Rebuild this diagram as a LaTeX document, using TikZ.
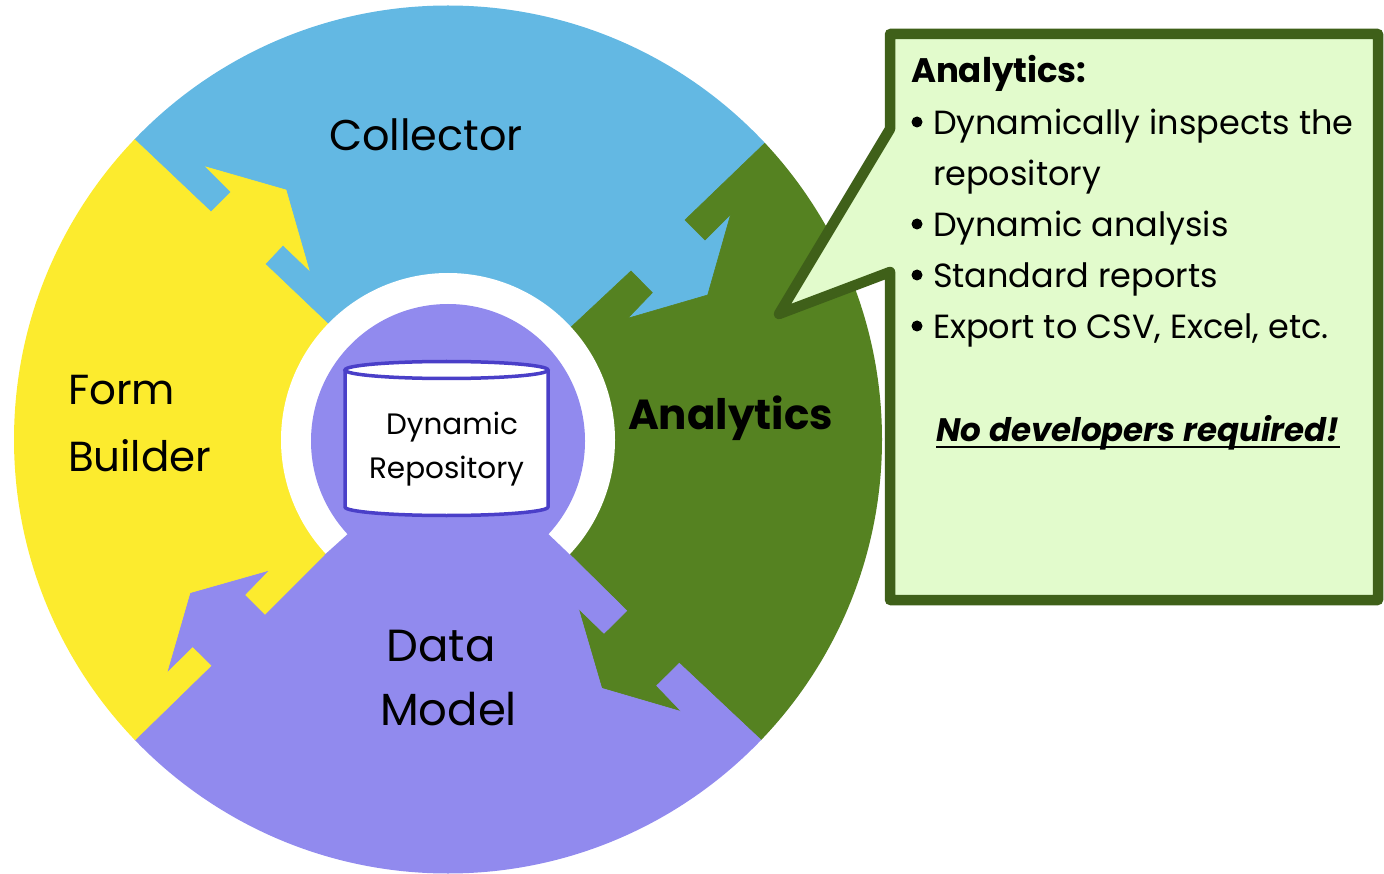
\documentclass[tikz,border=0pt]{standalone}
\usepackage{fontspec}
\setmainfont{Poppins}
\definecolor{cblue}{RGB}{99,184,227}
\definecolor{cyellow}{RGB}{252,235,46}
\definecolor{cgreen}{RGB}{85,130,33}
\definecolor{cpurple}{RGB}{145,138,238}
\definecolor{cdark}{RGB}{63,96,25}
\definecolor{clight}{RGB}{226,251,204}
\definecolor{ccyl}{RGB}{74,63,200}
\tikzset{
  seg/.style={fill=#1, draw=#1, line width=0.6pt, line join=miter},
  lbl/.style={inner sep=0pt, outer sep=0pt, text=black},
  bigtxt/.style={lbl, font=\fontsize{#1}{#1}\selectfont},
  boxtxt/.style={lbl, anchor=base west, font=\fontsize{33.5}{40}\selectfont},
  bul/.style={circle, fill=black, inner sep=0pt, minimum size=11pt},
}
\begin{document}
\begin{tikzpicture}[x=1pt,y=-1pt]
\useasboundingbox (0,0) rectangle (1384,874);
% ---- four coloured segments clipped by the outer circle
\begin{scope}
\clip (448,439.5) circle[radius=434];
% Collector (blue)
\path[seg=cblue] (448,440) -- (327,323) -- (265,264) -- (283,245) -- (309,270) -- (286,190)
  -- (206,167) -- (231,192) -- (211,212) -- (59,68) -- (-300,-300) -- (1200,-300) -- (845,66)
  -- (685,220) -- (705,240) -- (730.7,214.3) -- (707.7,295) -- (627.7,318.3) -- (652.3,292.7)
  -- (631,271) -- (573.3,325) -- cycle;
% Analytics (green)
\path[seg=cgreen] (448,440) -- (573.3,325) -- (631,271) -- (652.3,292.7) -- (627.7,318.3)
  -- (707.7,295) -- (730.7,214.3) -- (705,240) -- (685,220) -- (845,66) -- (1200,-300)
  -- (1200,1200) -- (844,818) -- (679.3,663.3) -- (656.7,685.7) -- (681.7,711.7) -- (601.7,688.3)
  -- (578.3,608.3) -- (604,633.3) -- (626.7,610.7) -- (571,555.7) -- (549.3,535) -- cycle;
% Data Model (purple)
\path[seg=cpurple] (448,440) -- (549.3,535) -- (571,555.7) -- (626.7,610.7) -- (604,633.3)
  -- (578.3,608.3) -- (601.7,688.3) -- (681.7,711.7) -- (656.7,685.7) -- (679.3,663.3)
  -- (844,818) -- (1200,1200) -- (-300,1200) -- (59,814) -- (211,665.7) -- (192.7,647.7)
  -- (166.7,673.3) -- (190,592.7) -- (270,570) -- (245.7,595) -- (265,614.3) -- (323.3,556)
  -- (346.7,535) -- cycle;
% Form Builder (yellow)
\path[seg=cyellow] (448,440) -- (346.7,535) -- (323.3,556) -- (265,614.3) -- (245.7,595)
  -- (270,570) -- (190,592.7) -- (166.7,673.3) -- (192.7,647.7) -- (211,665.7) -- (59,814)
  -- (-300,1200) -- (-300,-300) -- (59,68) -- (211,212) -- (231,192) -- (206,167) -- (286,190)
  -- (309,270) -- (283,245) -- (265,264) -- (327,323) -- cycle;
\end{scope}
% ---- white ring with the purple opening at the bottom
\fill[white] (448,440) circle[radius=167];
\begin{scope}
\clip (448,440) circle[radius=169];
\fill[cpurple] (448,441) -- (346.7,535) -- (323.3,556) -- (250,622) -- (640,622)
  -- (571,555.7) -- (549.3,535) -- cycle;
\end{scope}
\fill[cpurple] (448,441) circle[radius=137];
% ---- repository cylinder
\fill[white] (345,370) rectangle (548,507);
\fill[white] (446.5,507) ellipse[x radius=101.5, y radius=8.5];
\draw[ccyl, line width=3.5pt] (345,370) -- (345,507)
  arc[start angle=180, end angle=0, x radius=101.5, y radius=8.5] -- (548,370);
\draw[ccyl, line width=3.5pt, fill=white] (446.5,370) ellipse[x radius=101.5, y radius=8.5];
\node[bigtxt=29.5, anchor=base] (dyn) at (452,435) {Dynamic};
\node[bigtxt=29.5, anchor=base] (rep) at (446.5,478) {Repository};
% ---- segment labels
\node[bigtxt=43, anchor=base] (col) at (426,151) {Collector};
\node[bigtxt=42, anchor=base west] (form) at (68,404) {Form};
\node[bigtxt=42, anchor=base west] (build) at (68,471) {Builder};
\node[lbl, anchor=base west, font=\fontsize{42}{42}\selectfont\bfseries] (ana) at (628,429) {Analytics};
\node[bigtxt=45, anchor=base] (data) at (441,661) {Data};
\node[bigtxt=45, anchor=base] (model) at (448.5,725) {Model};
% ---- callout
\draw[cdark, line width=10.5pt, fill=clight, line join=round]
  (890,34) -- (1378,34) -- (1378,600) -- (890,600) -- (890,272) -- (779,314) -- (890,129) -- cycle;
\node[lbl, anchor=base west, font=\fontsize{34}{40}\selectfont\bfseries] (ch) at (911,83) {Analytics:};
\node[bul] (b1) at (917,122) {};
\node[boxtxt] (t1) at (933,135) {Dynamically inspects the};
\node[boxtxt] (t1b) at (933,186) {repository};
\node[bul] (b2) at (917,224) {};
\node[boxtxt] (t2) at (933,237) {Dynamic analysis};
\node[bul] (b3) at (917,275) {};
\node[boxtxt] (t3) at (933,288) {Standard reports};
\node[bul] (b4) at (917,326) {};
\node[boxtxt] (t4) at (933,339) {Export to CSV, Excel, etc.};
\node[lbl, anchor=base, font=\fontsize{32.5}{40}\selectfont\bfseries\itshape] (nd) at (1138,441) {No developers required!};
\draw[black, line width=2.5pt] ([yshift=-6pt]nd.base west) -- ([yshift=-6pt]nd.base east);
\end{tikzpicture}
\end{document}
